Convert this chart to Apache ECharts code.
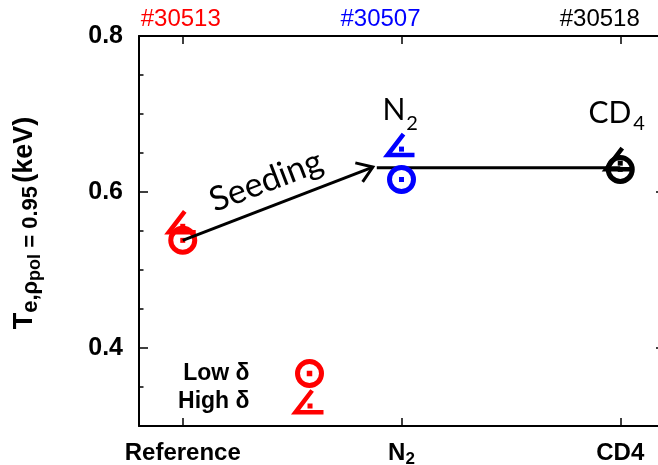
<!DOCTYPE html>
<html>
<head>
<meta charset="utf-8">
<script src="https://cdn.jsdelivr.net/npm/echarts@6/dist/echarts.min.js"></script>
<style>
  html, body { margin: 0; padding: 0; background: #ffffff; }
  #chart { width: 658px; height: 465px; }
</style>
</head>
<body>
<div id="chart"></div>
<script>
// Edge electron temperature at rho_pol = 0.95: reference discharge vs. N2 and CD4 seeding
const categories = ['Reference', 'N2', 'CD4'];
const shotNumbers = ['#30513', '#30507', '#30518'];
const shotColors = ['#ff0000', '#0000ff', '#000000'];
const lowDelta = [0.538, 0.616, 0.629];
const highDelta = [0.556, 0.655, 0.637];
const seedingArrow = [0, 0.538, 0.869, 0.632];
const seededLevel = [[0.887, 0.631], [2, 0.631]];
const yTicks = [0.4, 0.6, 0.8];
const yMinorStep = 0.05;
const xPositions = categories.map((c, i) => i);

const AX = 'Liberation Sans';

const chart = echarts.init(document.getElementById('chart'), null, { renderer: 'canvas' });

function ringMarker(params, api) {
  const p = api.coord([api.value(0), api.value(1)]);
  const c = shotColors[params.dataIndex];
  return {
    type: 'group',
    children: [
      { type: 'circle', shape: { cx: p[0], cy: p[1], r: 12 }, style: { fill: 'none', stroke: c, lineWidth: 5 } },
      { type: 'rect', shape: { x: p[0] - 2.5, y: p[1] - 2.5, width: 5, height: 5 }, style: { fill: c } }
    ]
  };
}

function angleMarker(params, api) {
  const p = api.coord([api.value(0), api.value(1)]);
  const c = shotColors[params.dataIndex];
  const x = p[0], y = p[1];
  return {
    type: 'group',
    children: [
      { type: 'polyline', shape: { points: [[x + 2, y - 15], [x - 14, y + 6], [x + 13, y + 6]] },
        style: { fill: 'none', stroke: c, lineWidth: 4.5, lineJoin: 'miter', miterLimit: 10 } },
      { type: 'rect', shape: { x: x - 2.5, y: y - 2.5, width: 5, height: 5 }, style: { fill: c } }
    ]
  };
}

function arrowItem(params, api) {
  const a = api.coord([api.value(0), api.value(1)]);
  const b = api.coord([api.value(2), api.value(3)]);
  const ang = Math.atan2(b[1] - a[1], b[0] - a[0]);
  const L = 18, spread = 0.6;
  const p1 = [b[0] - L * Math.cos(ang - spread), b[1] - L * Math.sin(ang - spread)];
  const p2 = [b[0] - L * Math.cos(ang + spread), b[1] - L * Math.sin(ang + spread)];
  return {
    type: 'group',
    children: [
      { type: 'line', shape: { x1: a[0], y1: a[1], x2: b[0], y2: b[1] }, style: { stroke: '#000', lineWidth: 3 } },
      { type: 'polyline', shape: { points: [p1, b, p2] }, style: { fill: 'none', stroke: '#000', lineWidth: 3, lineJoin: 'miter' } }
    ]
  };
}

const ringIcon = 'path://M-12,0A12,12,0,1,0,12,0A12,12,0,1,0,-12,0ZM-0.25,-0.25L0.25,-0.25L0.25,0.25L-0.25,0.25Z';
const angleIcon = 'path://M2,-15L-14,6L13,6M-0.25,-0.25L0.25,-0.25L0.25,0.25L-0.25,0.25Z';

function subLabel(text) {
  // "N2" -> N with subscript 2 on the category axis
  const m = /^N(\d)$/.exec(text);
  return m ? '{b|N}{s|' + m[1] + '}' : '{b|' + text + '}';
}

const blackLine = { color: '#000', width: 2 };
const tickStyle = { color: '#000', width: 1.5 };

chart.setOption({
  animation: false,
  backgroundColor: '#ffffff',
  grid: { left: 139, right: -6, top: 36, bottom: 39, outerBoundsMode: 'none', containLabel: false },
  xAxis: [
    {
      type: 'value', position: 'bottom', min: -0.2, max: 2.2,
      axisLine: { onZero: false, lineStyle: blackLine },
      axisTick: { inside: true, length: 8, customValues: xPositions, lineStyle: tickStyle },
      axisLabel: {
        customValues: xPositions, margin: 14,
        formatter: v => subLabel(categories[Math.round(v)]),
        rich: {
          b: { fontFamily: AX, fontSize: 24, fontWeight: 'bold', color: '#000', lineHeight: 26 },
          s: { fontFamily: AX, fontSize: 17, fontWeight: 'bold', color: '#000', lineHeight: 1,
               verticalAlign: 'top', padding: [11, 0, 0, 0] }
        }
      },
      splitLine: { show: false }
    },
    {
      type: 'value', position: 'top', min: -0.2, max: 2.2,
      axisLine: { onZero: false, lineStyle: blackLine },
      axisTick: { inside: true, length: 8, customValues: xPositions, lineStyle: tickStyle },
      axisLabel: {
        customValues: xPositions, margin: 5,
        formatter: v => '{c' + Math.round(v) + '|' + shotNumbers[Math.round(v)] + '}',
        rich: {
          c0: { fontFamily: AX, fontSize: 24, color: shotColors[0], padding: [0, 4, 0, 0] },
          c1: { fontFamily: AX, fontSize: 24, color: shotColors[1], padding: [0, 42, 0, 0] },
          c2: { fontFamily: AX, fontSize: 24, color: shotColors[2], padding: [0, 41, 0, 0] }
        }
      },
      splitLine: { show: false }
    }
  ],
  yAxis: [
    {
      type: 'value', position: 'left', min: 0.3, max: 0.8,
      axisLine: { show: true, onZero: false, lineStyle: blackLine },
      axisTick: { show: true, inside: true, length: 9, customValues: yTicks, lineStyle: tickStyle },
      axisLabel: {
        customValues: yTicks, margin: 16,
        formatter: v => v.toFixed(1),
        fontFamily: AX, fontSize: 25, fontWeight: 'bold', color: '#000'
      },
      splitLine: { show: false },
      name: '{t|T}{s|e,ρ}{p|pol}{s| = 0.95} {t|(keV)}',
      nameLocation: 'middle', nameRotate: 90, nameGap: 96,
      nameTextStyle: {
        padding: [0, 0, 0, 16],
        rich: {
          t: { fontFamily: AX, fontSize: 27, fontWeight: 'bold', color: '#000', lineHeight: 37 },
          s: { fontFamily: AX, fontSize: 22, fontWeight: 'bold', color: '#000', lineHeight: 1,
               verticalAlign: 'top', padding: [14, 0, 0, 0] },
          p: { fontFamily: AX, fontSize: 18, fontWeight: 'bold', color: '#000', lineHeight: 1,
               verticalAlign: 'top', padding: [20, 0, 0, 0] }
        }
      }
    },
    {
      type: 'value', position: 'left', min: 0.3, max: 0.8, interval: yMinorStep,
      axisLine: { show: false, onZero: false },
      axisTick: { show: true, inside: true, length: 4.5, lineStyle: tickStyle },
      axisLabel: { show: false },
      splitLine: { show: false }
    },
    {
      type: 'value', position: 'right', min: 0.3, max: 0.8,
      axisLine: { show: true, onZero: false, lineStyle: blackLine },
      axisTick: { show: true, inside: true, length: 8, customValues: yTicks, lineStyle: tickStyle },
      axisLabel: { show: false },
      splitLine: { show: false }
    }
  ],
  legend: {
    orient: 'vertical', align: 'right', right: 332, top: 359, padding: 0, itemGap: 0,
    itemWidth: 28, itemHeight: 24, selectedMode: false,
    textStyle: { fontFamily: AX, fontSize: 23, fontWeight: 'bold', color: '#000', padding: [0, 41, 0, 0] },
    data: [
      { name: 'Low δ', icon: ringIcon, itemStyle: { color: 'none', borderColor: '#ff0000', borderWidth: 5 } },
      { name: 'High δ', icon: angleIcon, itemStyle: { color: 'none', borderColor: '#ff0000', borderWidth: 4.5 } }
    ]
  },
  series: [
    {
      name: 'Seeded level', type: 'line', data: seededLevel, symbol: 'none', silent: true,
      lineStyle: { color: '#000', width: 3 }, z: 1
    },
    {
      name: 'High δ', type: 'custom', renderItem: angleMarker, clip: false, z: 2,
      data: xPositions.map(i => [i, highDelta[i]]), encode: { x: 0, y: 1 }
    },
    {
      name: 'Low δ', type: 'custom', renderItem: ringMarker, clip: false, z: 3,
      data: xPositions.map(i => [i, lowDelta[i]]), encode: { x: 0, y: 1 }
    },
    {
      name: 'Seeding', type: 'custom', renderItem: arrowItem, clip: false, z: 4,
      data: [seedingArrow], encode: { x: [0, 2], y: [1, 3] }
    }
  ],
  graphic: [
    {
      type: 'text', x: 266, y: 181, rotation: 0.365,
      style: { text: 'Seeding', font: '34px Lato', fill: '#000', align: 'center', verticalAlign: 'middle' }
    },
    { type: 'text', x: 394, y: 110, style: { text: 'N', font: '30px Lato', fill: '#000', align: 'center', verticalAlign: 'middle' } },
    { type: 'text', x: 412, y: 124, style: { text: '2', font: '20px Lato', fill: '#000', align: 'center', verticalAlign: 'middle' } },
    { type: 'text', x: 610, y: 113, style: { text: 'CD', font: '30px Lato', fill: '#000', align: 'center', verticalAlign: 'middle' } },
    { type: 'text', x: 639, y: 124, style: { text: '4', font: '20px Lato', fill: '#000', align: 'center', verticalAlign: 'middle' } }
  ]
});
</script>
</body>
</html>
